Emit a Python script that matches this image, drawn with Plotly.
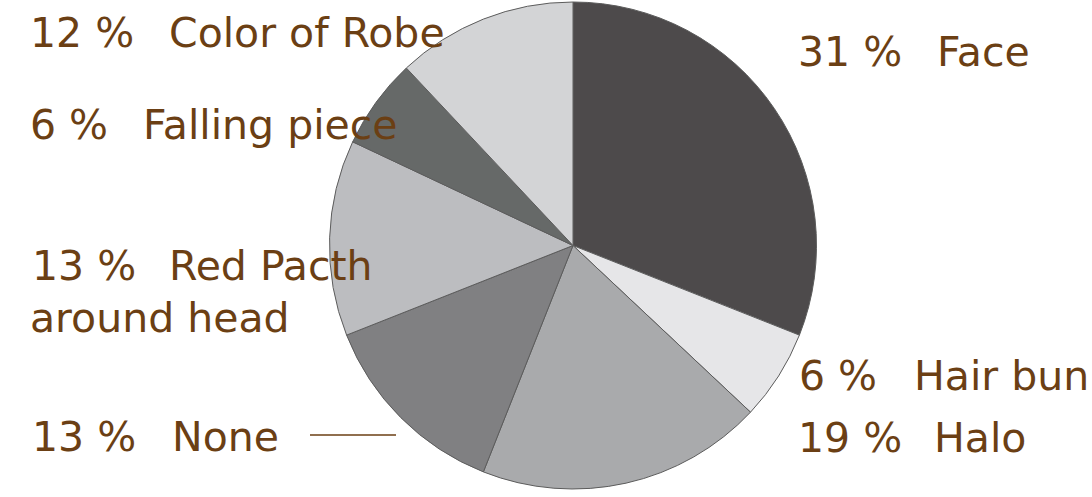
import plotly.graph_objects as go

labels = ["Face", "Hair bun", "Halo", "None", "Red Pacth around head", "Falling piece", "Color of Robe"]
values = [31, 6, 19, 13, 13, 6, 12]
colors = ["#4d4a4b", "#e6e6e8", "#a9aaac", "#808082", "#bcbdc0", "#666968", "#d3d4d6"]

W, H = 1092, 497
cx, cy, r = 573, 245.5, 243.5

fig = go.Figure(go.Pie(
    labels=labels, values=values, sort=False, direction="clockwise", rotation=0,
    marker=dict(colors=colors, line=dict(color="#5c5c5c", width=1)),
    textinfo="none", hoverinfo="label+percent", showlegend=False,
    domain=dict(x=[(cx - r) / W, (cx + r) / W], y=[1 - (cy + r) / H, 1 - (cy - r) / H]),
))

font = dict(family="'DejaVu Sans', sans-serif", size=41, color="#6b3f14")

# (label index, pct x, name x, y center, name override)
placements = [
    (0, 796, 935, 52, None),
    (1, 797, 912, 376, None),
    (2, 796, 932, 438, None),
    (3, 30, 170, 437, None),
    (4, 30, 167, 266, "Red Pacth"),
    (5, 28, 141, 125, None),
    (6, 28, 167, 33, None),
]
anns = []
for i, px, nx, y, name in placements:
    anns.append(dict(x=px / W, y=1 - y / H, xref="paper", yref="paper", xanchor="left",
                     yanchor="middle", text=f"{values[i]} %", showarrow=False, font=font))
    anns.append(dict(x=nx / W, y=1 - y / H, xref="paper", yref="paper", xanchor="left",
                     yanchor="middle", text=name or labels[i], showarrow=False, font=font))
anns.append(dict(x=28 / W, y=1 - 318 / H, xref="paper", yref="paper", xanchor="left",
                 yanchor="middle", text="around head", showarrow=False, font=font))

fig.update_layout(
    width=W, height=H, margin=dict(l=0, r=0, t=0, b=0),
    paper_bgcolor="white", plot_bgcolor="white", annotations=anns,
    shapes=[dict(type="line", xref="paper", yref="paper", x0=310 / W, x1=396 / W,
                 y0=1 - 435 / H, y1=1 - 435 / H, line=dict(color="#6b3f14", width=1.5))],
)
fig.write_html("out.html")
